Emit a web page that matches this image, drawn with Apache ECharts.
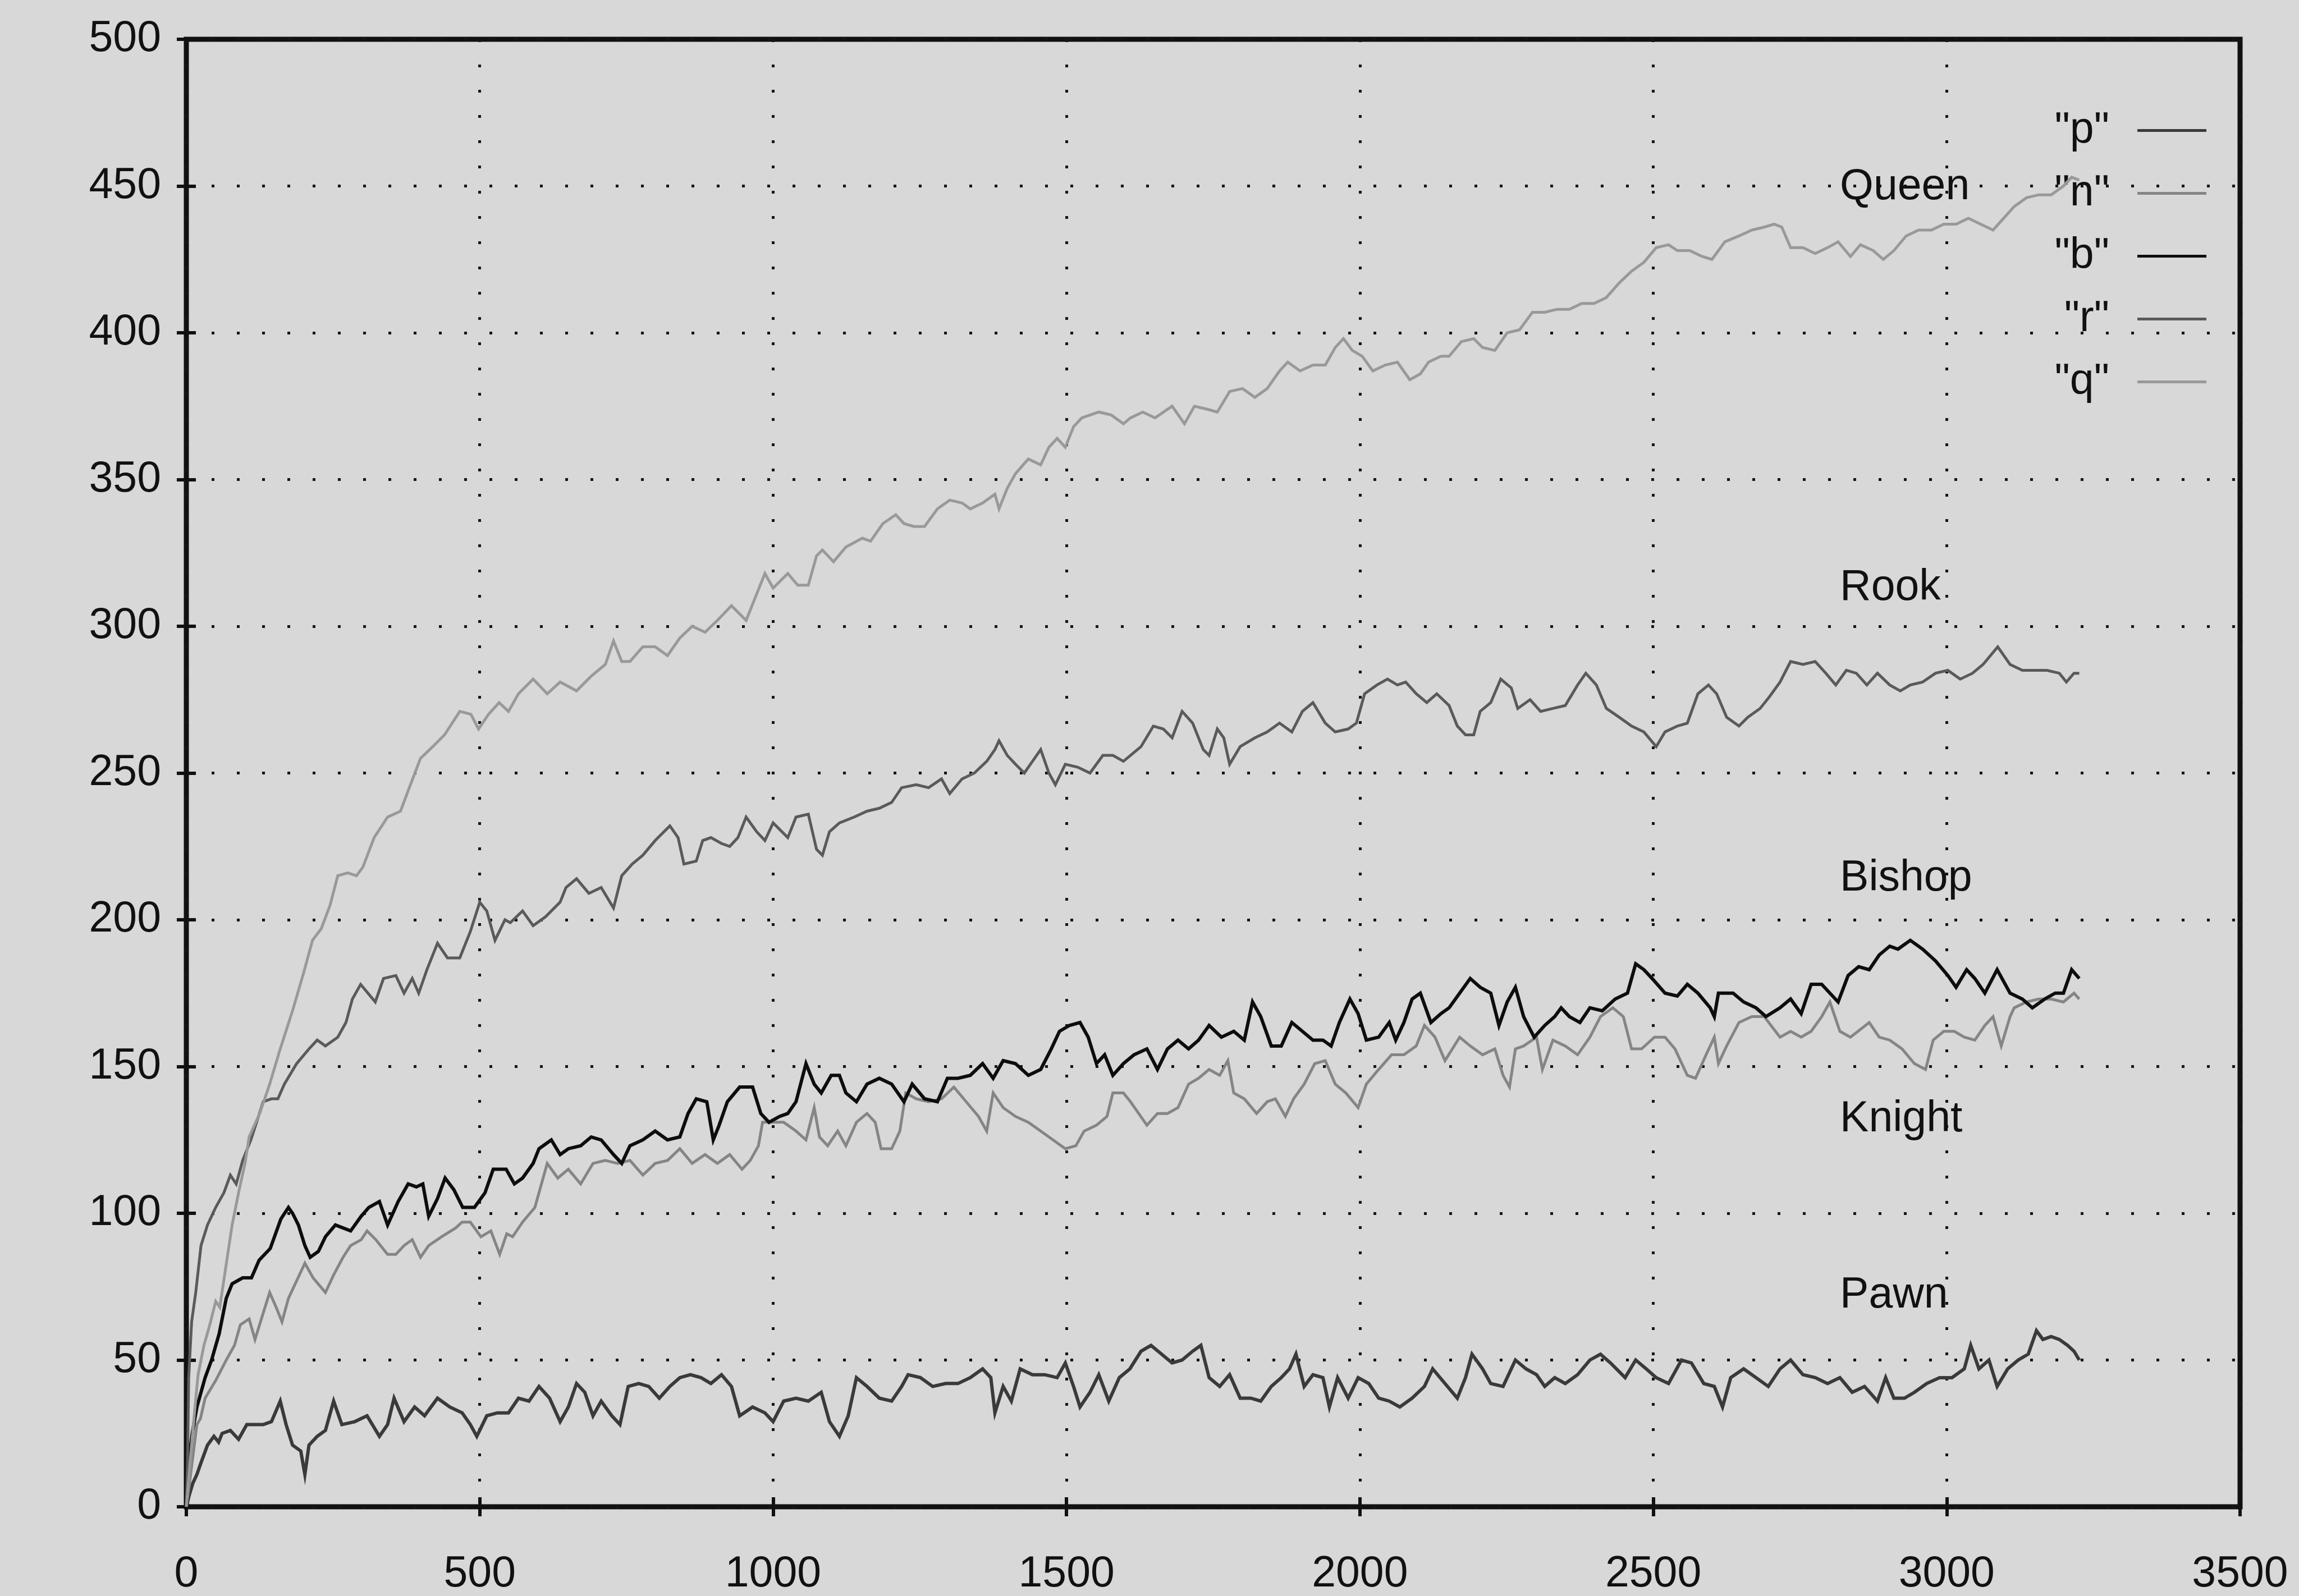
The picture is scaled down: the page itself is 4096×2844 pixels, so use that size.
<!DOCTYPE html>
<html>
<head>
<meta charset="utf-8">
<title>Piece values over training</title>
<style>
  html, body { margin: 0; padding: 0; background: #d8d8d8; }
  #chart { width: 4096px; height: 2844px; }
</style>
<script src="https://cdn.jsdelivr.net/npm/echarts@6/dist/echarts.min.js"></script>
</head>
<body>
<div id="chart"></div>
<script>
// Learned piece values ([iteration, value]) for each piece type.
const pawn = [[0,0],[5,4],[11,8],[18,11],[25,15],[36,21],[47,24],[55,22],[61,25],[75,26],[89,23],[103,28],[117,28],[131,28],[145,29],[160,36],[170,28],[181,21],[195,19],[202,11],[209,21],[223,24],[237,26],[251,36],[265,28],[287,29],[308,31],[329,24],[343,28],[354,37],[371,29],[389,34],[406,31],[428,37],[449,34],[470,32],[484,28],[495,24],[512,31],[530,32],[549,32],[566,37],[584,36],[601,41],[619,37],[637,29],[651,34],[665,42],[679,39],[693,31],[707,36],[725,31],[739,28],[753,41],[771,42],[788,41],[806,37],[824,41],[841,44],[859,45],[877,44],[894,42],[912,45],[929,41],[943,31],[965,34],[986,32],[1000,29],[1018,36],[1039,37],[1060,36],[1082,39],[1096,29],[1113,24],[1128,31],[1142,44],[1160,41],[1181,37],[1202,36],[1219,41],[1230,45],[1251,44],[1272,41],[1294,42],[1315,42],[1336,44],[1357,47],[1371,44],[1378,32],[1392,41],[1406,36],[1421,47],[1442,45],[1463,45],[1484,44],[1498,49],[1512,41],[1523,34],[1540,39],[1555,45],[1572,36],[1590,44],[1608,47],[1627,53],[1644,55],[1662,52],[1680,49],[1697,50],[1715,53],[1729,55],[1743,44],[1761,41],[1778,45],[1796,37],[1814,37],[1831,36],[1849,41],[1866,44],[1880,47],[1891,52],[1905,41],[1920,45],[1937,44],[1948,34],[1962,44],[1980,37],[1997,44],[2015,42],[2032,37],[2050,36],[2068,34],[2089,37],[2110,41],[2124,47],[2145,42],[2166,37],[2180,44],[2191,52],[2209,47],[2223,42],[2244,41],[2265,50],[2283,47],[2301,45],[2315,41],[2332,44],[2350,42],[2371,45],[2392,50],[2410,52],[2427,49],[2452,44],[2470,50],[2488,47],[2505,44],[2526,42],[2548,50],[2565,49],[2586,42],[2604,41],[2618,34],[2632,44],[2654,47],[2675,44],[2696,41],[2716,47],[2734,50],[2755,45],[2776,44],[2797,42],[2818,44],[2839,39],[2860,41],[2882,36],[2896,44],[2910,37],[2928,37],[2945,39],[2966,42],[2988,44],[3009,44],[3030,47],[3041,55],[3055,47],[3072,50],[3086,41],[3104,47],[3122,50],[3139,52],[3153,60],[3164,57],[3178,58],[3192,57],[3206,55],[3217,53],[3226,50]];

const knight = [[0,0],[6,9],[18,28],[24,30],[32,37],[50,43],[68,50],[82,55],[92,62],[107,64],[117,57],[131,66],[142,73],[153,68],[163,63],[174,71],[188,77],[202,83],[216,78],[237,73],[251,79],[267,85],[280,89],[298,91],[308,94],[323,91],[343,86],[357,86],[371,89],[385,91],[399,85],[413,89],[435,92],[459,95],[470,97],[484,97],[502,92],[519,94],[534,86],[546,93],[556,92],[573,97],[594,102],[615,117],[633,112],[651,115],[672,110],[693,117],[714,118],[735,117],[756,118],[778,113],[799,117],[820,118],[841,122],[862,117],[884,120],[905,117],[926,120],[947,115],[961,118],[975,123],[982,131],[996,131],[1018,131],[1039,128],[1056,125],[1070,136],[1079,126],[1093,123],[1110,128],[1124,123],[1142,131],[1160,134],[1174,131],[1184,122],[1202,122],[1216,128],[1226,141],[1244,139],[1265,138],[1287,139],[1308,143],[1329,138],[1350,133],[1364,128],[1375,141],[1392,136],[1413,133],[1435,131],[1456,128],[1477,125],[1498,122],[1516,123],[1530,128],[1551,130],[1569,133],[1579,141],[1597,141],[1609,138],[1623,134],[1637,130],[1655,134],[1672,134],[1690,136],[1708,144],[1725,146],[1743,149],[1761,147],[1775,152],[1785,141],[1803,139],[1824,134],[1842,138],[1856,139],[1873,133],[1887,139],[1905,144],[1923,151],[1941,152],[1958,144],[1976,141],[1997,136],[2011,144],[2032,149],[2054,154],[2075,154],[2096,157],[2110,164],[2128,160],[2145,152],[2170,160],[2188,157],[2209,154],[2230,156],[2244,147],[2255,143],[2265,156],[2279,157],[2301,160],[2311,149],[2329,159],[2350,157],[2371,154],[2392,160],[2410,167],[2431,170],[2449,167],[2463,156],[2480,156],[2502,160],[2520,160],[2537,156],[2558,147],[2572,146],[2590,154],[2604,160],[2611,151],[2625,157],[2646,165],[2668,167],[2689,167],[2716,160],[2734,162],[2752,160],[2769,162],[2787,167],[2801,172],[2818,162],[2836,160],[2868,165],[2885,160],[2903,159],[2924,156],[2945,151],[2964,149],[2977,159],[2995,162],[3013,162],[3030,160],[3048,159],[3065,164],[3079,167],[3093,157],[3108,167],[3115,170],[3136,172],[3157,173],[3178,173],[3199,172],[3217,175],[3226,173]];

const bishop = [[0,0],[4,15],[10,25],[18,34],[32,44],[43,50],[56,59],[68,71],[78,76],[96,78],[111,78],[124,84],[143,88],[161,98],[174,102],[181,100],[191,96],[202,89],[211,85],[225,87],[237,92],[254,96],[280,94],[298,99],[311,102],[329,104],[343,96],[361,104],[378,110],[392,109],[403,110],[413,99],[428,105],[441,112],[456,108],[471,102],[491,102],[509,107],[523,115],[537,115],[545,115],[559,110],[573,112],[591,117],[601,122],[622,125],[637,120],[651,122],[672,123],[690,126],[707,125],[728,120],[742,117],[756,123],[778,125],[799,128],[820,125],[841,126],[855,134],[869,139],[887,138],[898,125],[908,130],[922,138],[943,143],[965,143],[979,134],[993,131],[1011,133],[1025,134],[1039,138],[1056,151],[1070,144],[1082,141],[1099,147],[1113,147],[1124,141],[1142,138],[1160,144],[1181,146],[1202,144],[1223,138],[1237,144],[1258,139],[1280,138],[1297,146],[1315,146],[1336,147],[1357,151],[1375,146],[1392,152],[1413,151],[1435,147],[1456,149],[1474,156],[1488,162],[1505,164],[1523,165],[1537,160],[1551,151],[1565,154],[1579,147],[1597,151],[1615,154],[1637,156],[1655,149],[1672,156],[1690,159],[1708,156],[1725,159],[1743,164],[1764,160],[1785,162],[1803,159],[1817,172],[1831,167],[1849,157],[1866,157],[1884,165],[1902,162],[1920,159],[1937,159],[1951,157],[1965,165],[1983,173],[1997,168],[2011,159],[2032,160],[2050,165],[2061,159],[2075,165],[2089,173],[2103,175],[2121,165],[2138,168],[2152,170],[2170,175],[2188,180],[2205,177],[2223,175],[2237,164],[2251,172],[2265,177],[2279,167],[2297,160],[2315,164],[2332,167],[2343,170],[2357,167],[2375,165],[2392,170],[2413,169],[2435,173],[2456,175],[2470,185],[2484,183],[2498,180],[2520,175],[2541,174],[2558,178],[2576,175],[2597,170],[2604,167],[2611,175],[2636,175],[2654,172],[2675,170],[2692,167],[2716,170],[2734,173],[2752,168],[2769,178],[2787,178],[2801,175],[2815,172],[2832,181],[2850,184],[2868,183],[2885,188],[2903,191],[2917,190],[2938,193],[2959,190],[2981,186],[3002,181],[3016,177],[3034,183],[3048,180],[3065,175],[3086,183],[3108,175],[3129,173],[3146,170],[3167,173],[3185,175],[3199,175],[3213,183],[3226,180]];

const rook = [[0,0],[2,15],[4,44],[9,63],[16,73],[25,89],[36,96],[50,102],[64,107],[75,113],[85,110],[96,118],[110,125],[131,138],[145,139],[156,139],[167,144],[188,151],[209,156],[223,159],[237,157],[258,160],[272,165],[283,173],[297,178],[322,172],[336,180],[357,181],[371,175],[385,180],[396,175],[410,183],[428,192],[445,187],[466,187],[484,196],[500,206],[512,203],[526,193],[543,200],[552,199],[573,203],[591,198],[612,201],[637,206],[647,211],[665,214],[686,209],[707,211],[728,204],[742,215],[760,219],[778,222],[799,227],[824,232],[838,228],[848,219],[869,220],[880,227],[894,228],[912,226],[926,225],[940,228],[954,235],[972,230],[986,227],[1000,233],[1025,228],[1039,235],[1060,236],[1074,224],[1084,222],[1096,230],[1113,233],[1138,235],[1160,237],[1181,238],[1202,240],[1219,245],[1244,246],[1265,245],[1287,248],[1301,243],[1322,248],[1343,250],[1364,254],[1378,258],[1385,261],[1399,256],[1413,253],[1428,250],[1442,254],[1456,258],[1470,250],[1481,246],[1498,253],[1519,252],[1540,250],[1562,256],[1579,256],[1597,254],[1609,256],[1627,259],[1648,266],[1665,265],[1680,262],[1697,271],[1715,267],[1733,258],[1743,256],[1757,265],[1768,262],[1778,253],[1796,259],[1821,262],[1842,264],[1863,267],[1884,264],[1902,271],[1920,274],[1941,267],[1958,264],[1980,265],[1994,267],[2008,277],[2029,280],[2047,282],[2064,280],[2078,281],[2096,277],[2114,274],[2131,277],[2152,273],[2166,266],[2180,263],[2194,263],[2205,271],[2223,274],[2240,282],[2258,279],[2269,272],[2290,275],[2308,271],[2329,272],[2350,273],[2371,280],[2385,284],[2403,280],[2420,272],[2442,269],[2463,266],[2484,264],[2505,259],[2520,264],[2541,266],[2558,267],[2576,277],[2594,280],[2608,277],[2625,269],[2646,266],[2661,269],[2682,272],[2698,276],[2716,281],[2734,288],[2755,287],[2776,288],[2794,284],[2811,280],[2829,285],[2846,284],[2864,280],[2882,284],[2903,280],[2921,278],[2938,280],[2959,281],[2981,284],[3002,285],[3023,282],[3044,284],[3062,287],[3087,293],[3108,287],[3129,285],[3150,285],[3171,285],[3192,284],[3204,281],[3217,284],[3226,284]];

const queen = [[0,0],[5,12],[12,28],[20,45],[30,55],[40,62],[50,70],[57,68],[66,80],[78,96],[90,108],[100,117],[107,126],[125,134],[142,144],[160,156],[181,169],[200,182],[215,193],[230,197],[245,205],[258,215],[275,216],[290,215],[301,218],[320,228],[343,235],[365,237],[380,245],[399,255],[420,259],[440,263],[466,271],[485,270],[498,265],[515,270],[533,274],[549,271],[566,277],[591,282],[615,277],[637,281],[665,278],[690,283],[714,287],[728,295],[742,288],[756,288],[778,293],[799,293],[820,290],[841,296],[862,300],[884,298],[905,302],[929,307],[954,302],[968,309],[986,318],[1000,313],[1025,318],[1042,314],[1060,314],[1074,324],[1084,326],[1103,322],[1124,327],[1152,330],[1166,329],[1187,335],[1209,338],[1223,335],[1240,334],[1258,334],[1280,340],[1301,343],[1322,342],[1336,340],[1357,342],[1378,345],[1385,340],[1399,347],[1413,352],[1435,357],[1456,355],[1470,361],[1484,364],[1498,361],[1512,368],[1526,371],[1555,373],[1576,372],[1597,369],[1609,371],[1630,373],[1651,371],[1680,375],[1701,369],[1718,375],[1739,374],[1757,373],[1778,380],[1800,381],[1821,378],[1842,381],[1863,387],[1877,390],[1898,387],[1920,389],[1941,389],[1958,395],[1972,398],[1987,394],[2004,392],[2022,387],[2043,389],[2064,390],[2085,384],[2103,386],[2117,390],[2138,392],[2152,392],[2173,397],[2194,398],[2209,395],[2230,394],[2251,400],[2272,401],[2294,407],[2315,407],[2336,408],[2357,408],[2378,410],[2399,410],[2420,412],[2442,417],[2463,421],[2484,424],[2505,429],[2526,430],[2541,428],[2562,428],[2583,426],[2600,425],[2622,431],[2646,433],[2668,435],[2689,436],[2706,437],[2719,436],[2734,429],[2755,429],[2776,427],[2797,429],[2815,431],[2836,426],[2853,430],[2875,428],[2892,425],[2910,428],[2931,433],[2952,435],[2974,435],[2995,437],[3016,437],[3037,439],[3058,437],[3079,435],[3097,439],[3115,443],[3136,446],[3157,447],[3178,447],[3199,450],[3213,453],[3226,452]];

// Key names as they appear in the legend, in plotting order.
const seriesKeys = ['"p"', '"n"', '"b"', '"r"', '"q"'];

// Axis ranges and tick spacing.
const xRange = [0, 3500];
const xStep = 500;
const yRange = [0, 500];
const yStep = 50;

// Piece names written inside the plot, anchored at (labelX, labelY[i]).
const pieceNames = ['Queen', 'Rook', 'Bishop', 'Knight', 'Pawn'];
const labelX = 2818;
const labelY = [449.5, 313, 214, 132, 72];

const FONT = "'Liberation Sans', Arial, Helvetica, sans-serif";
const INK = '#111111';
const BG = '#d8d8d8';
const FS = 77;

const lineColors = ['#3a3a3a', '#858585', '#0d0d0d', '#5a5a5a', '#999999'];
const lineWidths = [6, 5, 6, 5, 5];
const seriesData = [pawn, knight, bishop, rook, queen];

const dotted = { color: '#161616', width: 5, type: [5, 40], cap: 'butt' };
const tickStyle = { inside: true, length: 17, lineStyle: { color: INK, width: 6 } };

function valueAxis(range, step, position, primary, margin) {
  return {
    type: 'value',
    min: range[0],
    max: range[1],
    interval: step,
    position: position,
    axisLine: { show: false },
    axisTick: tickStyle,
    axisLabel: primary
      ? { show: true, fontSize: FS, fontFamily: FONT, color: INK, margin: margin,
          formatter: v => String(v) }
      : { show: false },
    splitLine: primary ? { show: true, lineStyle: dotted } : { show: false }
  };
}

const chart = echarts.init(document.getElementById('chart'), null, { renderer: 'canvas' });

const series = seriesData.map((d, i) => ({
  type: 'line',
  name: seriesKeys[i],
  data: d,
  xAxisIndex: 0,
  yAxisIndex: 0,
  showSymbol: false,
  symbol: 'none',
  lineStyle: { width: lineWidths[i], color: lineColors[i], join: 'miter' },
  itemStyle: { color: lineColors[i] },
  z: 2 + i
}));

// Piece names, drawn as labels of invisible points so they sit in data space.
series.push({
  type: 'scatter',
  name: 'pieces',
  xAxisIndex: 0,
  yAxisIndex: 0,
  data: pieceNames.map((n, i) => ({ name: n, value: [labelX, labelY[i]] })),
  symbolSize: 0.01,
  itemStyle: { color: INK, opacity: 1 },
  label: {
    show: true,
    position: 'right',
    distance: 0,
    align: 'left',
    verticalAlign: 'middle',
    formatter: p => p.name,
    fontSize: FS,
    fontFamily: FONT,
    color: INK,
    textBorderWidth: 0
  },
  silent: true,
  z: 10
});

chart.setOption({
  backgroundColor: BG,
  animation: false,
  grid: {
    left: 332, top: 70, width: 3659, height: 2620,
    show: true, borderColor: INK, borderWidth: 9, backgroundColor: 'transparent'
  },
  xAxis: [
    valueAxis(xRange, xStep, 'bottom', true, 82),
    valueAxis(xRange, xStep, 'top', false, 0)
  ],
  yAxis: [
    valueAxis(yRange, yStep, 'left', true, 45),
    valueAxis(yRange, yStep, 'right', false, 0)
  ],
  legend: {
    data: seriesKeys,
    orient: 'vertical',
    right: 165,
    top: 194,
    align: 'right',
    icon: 'rect',
    itemWidth: 123,
    itemHeight: 5,
    itemGap: 35,
    padding: 0,
    selectedMode: false,
    textStyle: {
      fontSize: FS, fontFamily: FONT, color: INK, lineHeight: FS,
      padding: [0, 45, 0, 0]
    }
  },
  series: series
});
</script>
</body>
</html>
